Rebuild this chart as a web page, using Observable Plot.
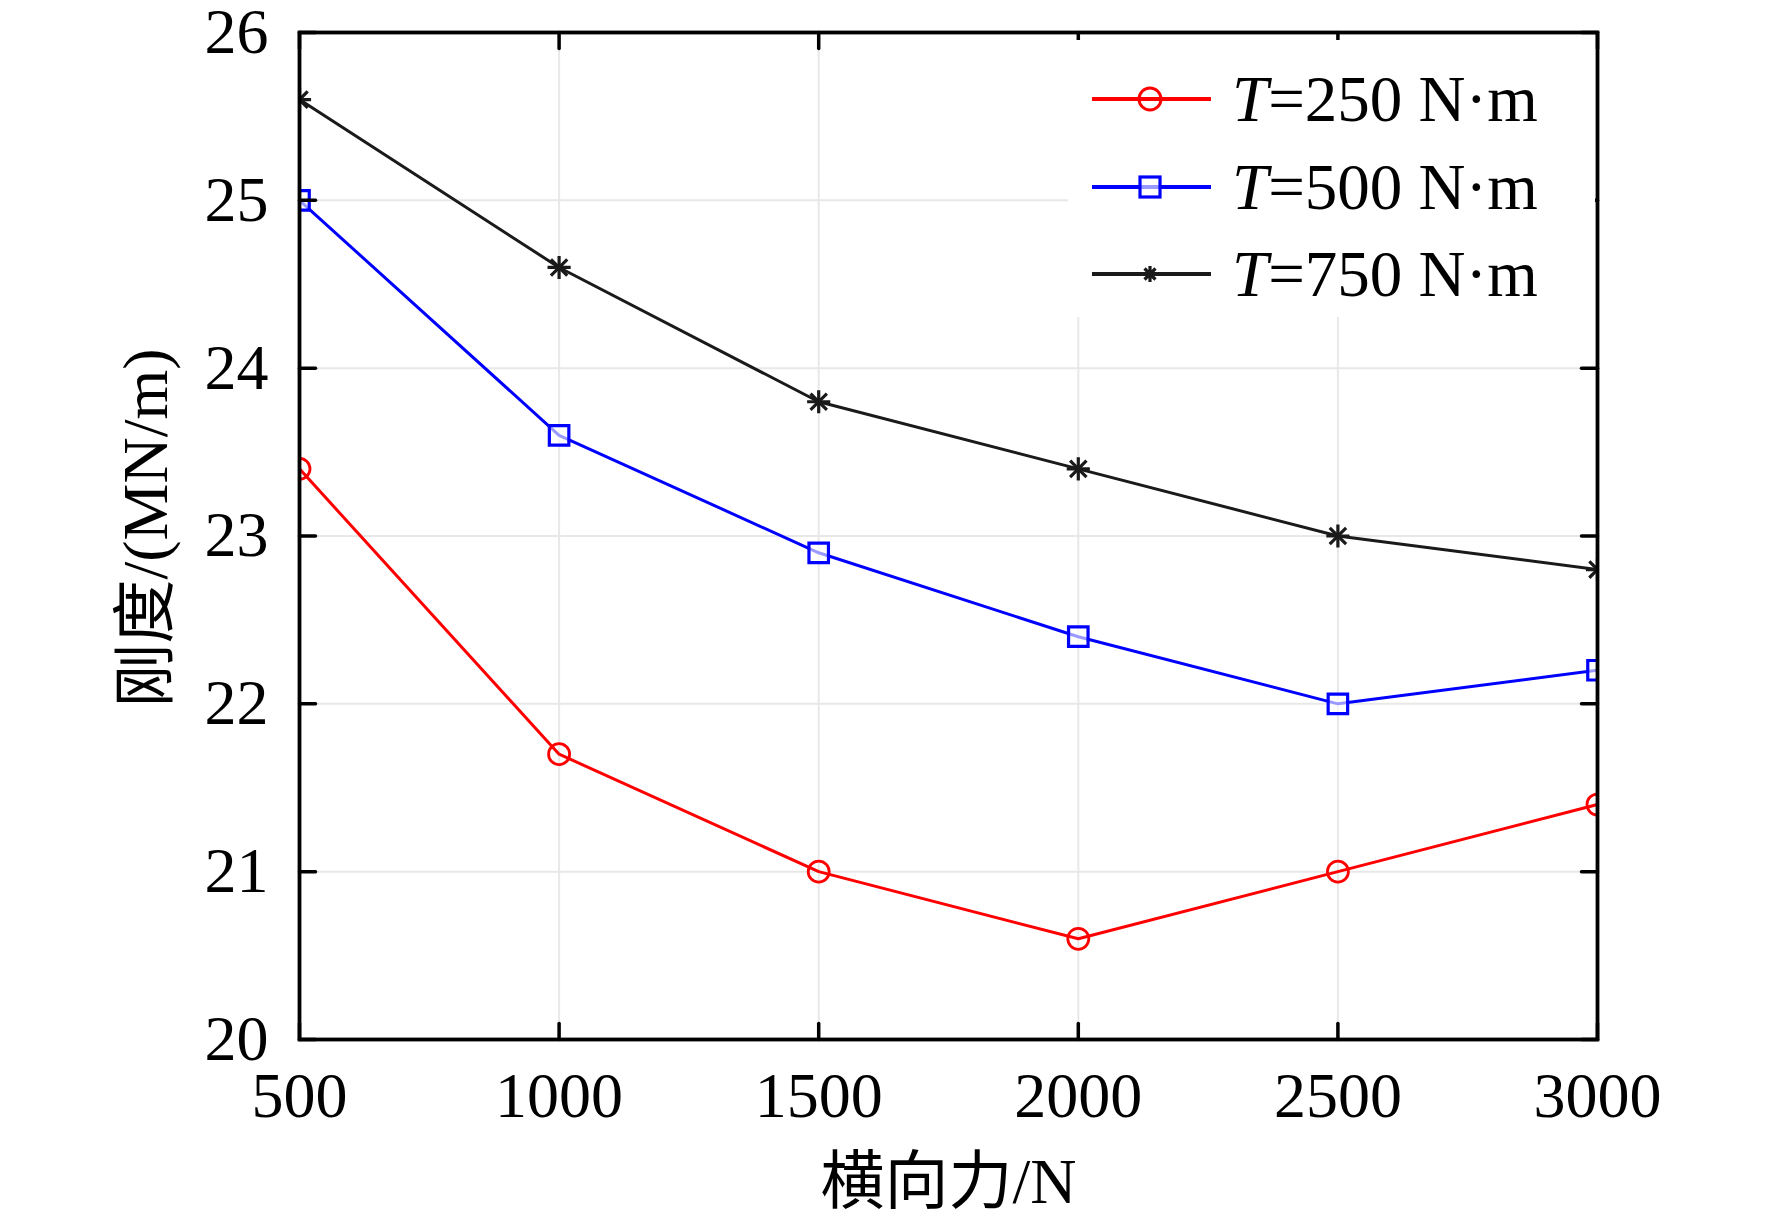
<!DOCTYPE html>
<html>
<head>
<meta charset="utf-8">
<script src="https://cdn.jsdelivr.net/npm/d3@7"></script>
<script src="https://cdn.jsdelivr.net/npm/@observablehq/plot@0.6"></script>
<style>
  html, body { margin: 0; padding: 0; background: #fff; }
  #wrap { position: relative; width: 1772px; height: 1222px; }
  #legend { position: absolute; left: 1068px; top: 40px; width: 527px; height: 277px; background: #fff; font-family: "Liberation Serif", "Times New Roman", serif; font-size: 65px; color: #000; }
  .row { position: absolute; left: 0; height: 80px; display: flex; align-items: center; }
  .row svg { margin-left: 22px; }
  .row span { margin-left: 20px; white-space: nowrap; }
</style>
</head>
<body>
<div id="wrap"></div>
<script>
const forces = [500, 1000, 1500, 2000, 2500, 3000];
const seriesNames = ["T=250 N·m", "T=500 N·m", "T=750 N·m"];
const stiff250 = [23.4, 21.7, 21.0, 20.6, 21.0, 21.4];
const stiff500 = [25.0, 23.6, 22.9, 22.4, 22.0, 22.2];
const stiff750 = [25.6, 24.6, 23.8, 23.4, 23.0, 22.8];
const xTicks = [500, 1000, 1500, 2000, 2500, 3000];
const yTicks = [20, 21, 22, 23, 24, 25, 26];
const colors = ["#ff0000", "#0000ff", "#1a1a1a"];

const data = [];
[stiff250, stiff500, stiff750].forEach((arr, i) => {
  arr.forEach((v, j) => data.push({series: seriesNames[i], x: forces[j], y: v}));
});
const s250 = data.filter(d => d.series === seriesNames[0]);
const s500 = data.filter(d => d.series === seriesNames[1]);
const s750 = data.filter(d => d.series === seriesNames[2]);

const tickShape = {draw(context, l) { context.moveTo(0, 0); context.lineTo(0, -l); }};
const font = "'Liberation Serif', 'Times New Roman', 'Noto Sans CJK SC', serif";

const chart = Plot.plot({
  width: 1772,
  height: 1222,
  marginLeft: 299,
  marginRight: 175,
  marginTop: 32,
  marginBottom: 183,
  style: {fontFamily: font, background: "#fff", color: "#000"},
  x: {domain: [500, 3000]},
  y: {domain: [20, 26]},
  color: {domain: seriesNames, range: colors},
  marks: [
    Plot.ruleY(yTicks, {y: d => d, stroke: "#e8e8e8", strokeWidth: 2}),
    Plot.ruleX(xTicks, {x: d => d, stroke: "#e8e8e8", strokeWidth: 2}),
    Plot.line(data, {x: "x", y: "y", z: "series", stroke: "series", strokeWidth: 3, clip: "frame"}),
    Plot.dot(s250, {x: "x", y: "y", r: 10.5, stroke: colors[0], strokeWidth: 2.8, fill: "none", clip: "frame"}),
    Plot.dot(s500, {x: "x", y: "y", symbol: "square", r: 11, stroke: colors[1], strokeWidth: 3.2, fill: "#ffffff", fillOpacity: 0.6, clip: "frame"}),
    Plot.dot(s750, {x: "x", y: "y", symbol: "plus", r: 7.5, stroke: colors[2], strokeWidth: 3.2, clip: "frame"}),
    Plot.dot(s750, {x: "x", y: "y", symbol: "times", r: 7.5, stroke: colors[2], strokeWidth: 3.2, clip: "frame"}),
    Plot.frame({stroke: "#000", strokeWidth: 3.8}),
    Plot.vector(xTicks, {x: d => d, frameAnchor: "bottom", length: 16, rotate: 0, anchor: "start", shape: tickShape, stroke: "#000", strokeWidth: 3.5}),
    Plot.vector(xTicks, {x: d => d, frameAnchor: "top", length: 16, rotate: 180, anchor: "start", shape: tickShape, stroke: "#000", strokeWidth: 3.5}),
    Plot.vector(yTicks, {y: d => d, frameAnchor: "left", length: 16, rotate: 90, anchor: "start", shape: tickShape, stroke: "#000", strokeWidth: 3.5}),
    Plot.vector(yTicks, {y: d => d, frameAnchor: "right", length: 16, rotate: -90, anchor: "start", shape: tickShape, stroke: "#000", strokeWidth: 3.5}),
    Plot.axisX(xTicks, {tickSize: 0, tickPadding: 32, fontSize: 64, tickFormat: d => String(d), label: null}),
    Plot.axisY(yTicks, {tickSize: 0, tickPadding: 31, fontSize: 64, tickFormat: d => String(d), label: null}),
    Plot.text(["横向力/N"], {frameAnchor: "bottom", dy: 143, lineAnchor: "middle", textAnchor: "middle", fontSize: 64, fill: "#000"}),
    Plot.text(["刚度/(MN/m)"], {frameAnchor: "left", dx: -153, dy: -8, rotate: -90, lineAnchor: "middle", textAnchor: "middle", fontSize: 64, fill: "#000"})
  ]
});
const wrap = document.getElementById("wrap");
wrap.appendChild(chart);

// legend overlay
const legend = document.createElement("div");
legend.id = "legend";
const markerSvg = [
  `<circle cx="60" cy="20" r="11" fill="none" stroke="${colors[0]}" stroke-width="3"/>`,
  `<rect x="50" y="10" width="20" height="20" fill="#fff" fill-opacity="0.6" stroke="${colors[1]}" stroke-width="3.2"/>`,
  `<path d="M60 12V28M52 20H68M54.5 14.5L65.5 25.5M65.5 14.5L54.5 25.5" stroke="${colors[2]}" stroke-width="3.2"/>`
];
const rowTops = [19, 107, 194];
seriesNames.forEach((name, i) => {
  const row = document.createElement("div");
  row.className = "row";
  row.style.top = rowTops[i] + "px";
  const parts = name.split("=");
  row.innerHTML = `<svg width="122" height="40" viewBox="0 0 122 40"><line x1="2" y1="20" x2="121" y2="20" stroke="${colors[i]}" stroke-width="4"/>${markerSvg[i]}</svg><span><i>${parts[0]}</i>=${parts[1]}</span>`;
  legend.appendChild(row);
});
wrap.appendChild(legend);
</script>
</body>
</html>
